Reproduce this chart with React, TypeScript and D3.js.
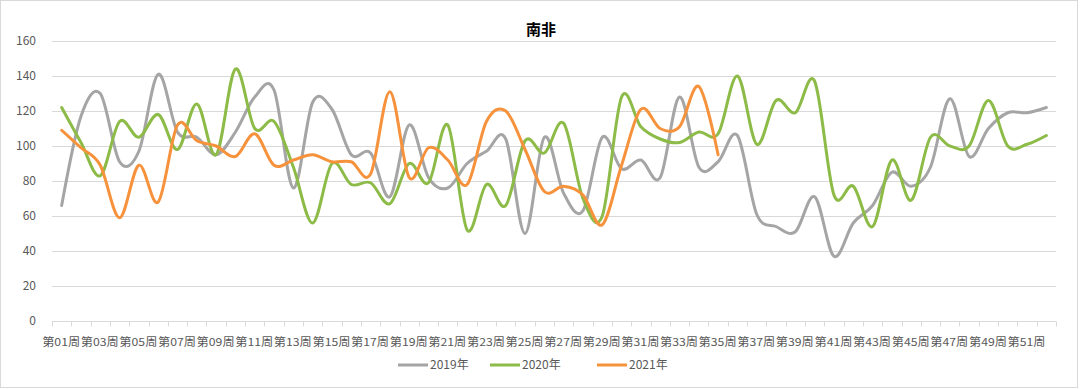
import React, { useRef, useEffect } from "react";
import * as d3 from "d3";

const weeks = d3.range(1, 53).map((w) => `第${String(w).padStart(2, "0")}周`);

const values2019 = [
  66, 117, 130, 91, 97, 141, 108, 105, 95, 108, 128, 132, 76, 125, 121, 95,
  96, 71, 112, 82, 76, 90, 97, 104, 50, 105, 73, 63, 105, 87, 92, 82, 128, 88,
  91, 106, 61, 54, 51, 71, 37, 56, 66, 85, 77, 88, 127, 94, 110, 119, 119, 122,
];

const values2020 = [
  122, 102, 83, 114, 105, 118, 98, 124, 95, 144, 110, 114, 88, 56, 90, 78, 79,
  67, 90, 79, 112, 52, 78, 66, 103, 96, 113, 70, 60, 128, 111, 104, 102, 108,
  107, 140, 101, 126, 119, 137, 72, 77, 54, 92, 69, 105, 100, 100, 126, 100,
  101, 106,
];

const values2021 = [
  109, 99, 89, 59, 89, 68, 112, 103, 100, 94, 107, 89, 92, 95, 91, 91, 84, 131,
  82, 99, 92, 78, 114, 120, 98, 74, 77, 72, 55, 89, 121, 110, 111, 134, 95,
];

const yTicks = [0, 20, 40, 60, 80, 100, 120, 140, 160];

const seriesList = [
  { name: "2019年", values: values2019, color: "#A5A5A5" },
  { name: "2020年", values: values2020, color: "#8DBB47" },
  { name: "2021年", values: values2021, color: "#F7923C" },
];

const W = 1080;
const H = 389;
const margin = { top: 41, right: 24, bottom: 68, left: 52 };

const App: React.FC = () => {
  const svgRef = useRef<SVGSVGElement | null>(null);

  useEffect(() => {
    const root = d3.select(svgRef.current);
    root.selectAll("*").remove();

    const font = "'Noto Sans CJK SC', 'Noto Sans', sans-serif";
    const innerW = W - margin.left - margin.right;
    const innerH = H - margin.top - margin.bottom;

    // chart frame
    root
      .append("rect")
      .attr("x", 0.5)
      .attr("y", 0.5)
      .attr("width", W - 3)
      .attr("height", H - 2)
      .attr("fill", "#fff")
      .attr("stroke", "#D9D9D9");

    root
      .append("text")
      .attr("x", 541)
      .attr("y", 35)
      .attr("text-anchor", "middle")
      .style("font-family", font)
      .style("font-size", "15px")
      .style("font-weight", "bold")
      .style("fill", "#000")
      .text("南非");

    const g = root
      .append("g")
      .attr("transform", `translate(${margin.left},${margin.top})`);

    const x = d3.scaleBand<string>().domain(weeks).range([0, innerW]);
    const y = d3.scaleLinear().domain([0, 160]).range([innerH, 0]);

    // gridlines
    g.append("g")
      .selectAll("line")
      .data(yTicks.filter((t) => t > 0))
      .join("line")
      .attr("x1", 0)
      .attr("x2", innerW)
      .attr("y1", (d) => Math.round(y(d)) + 0.5)
      .attr("y2", (d) => Math.round(y(d)) + 0.5)
      .attr("stroke", "#D9D9D9")
      .attr("stroke-width", 1);

    // y labels
    g.append("g")
      .selectAll("text")
      .data(yTicks)
      .join("text")
      .attr("x", -16)
      .attr("y", (d) => y(d))
      .attr("dy", "0.35em")
      .attr("text-anchor", "end")
      .style("font-family", font)
      .style("font-size", "12px")
      .style("fill", "#595959")
      .text((d) => d);

    // x axis line and category ticks
    const axisY = Math.round(innerH) + 0.5;
    g.append("line")
      .attr("x1", 0)
      .attr("x2", innerW)
      .attr("y1", axisY)
      .attr("y2", axisY)
      .attr("stroke", "#D9D9D9");

    g.append("g")
      .selectAll("line")
      .data(d3.range(weeks.length + 1))
      .join("line")
      .attr("x1", (i) => Math.round(i * x.step()) + 0.5)
      .attr("x2", (i) => Math.round(i * x.step()) + 0.5)
      .attr("y1", axisY)
      .attr("y2", axisY + 5)
      .attr("stroke", "#D9D9D9");

    g.append("g")
      .selectAll("text")
      .data(weeks.filter((_, i) => i % 2 === 0))
      .join("text")
      .attr("x", (d) => (x(d) as number) + x.bandwidth() / 2 - 0.5)
      .attr("y", innerH + 21)
      .attr("dy", "0.35em")
      .attr("text-anchor", "middle")
      .attr("textLength", 38)
      .attr("lengthAdjust", "spacingAndGlyphs")
      .style("font-family", font)
      .style("font-size", "11px")
      .style("fill", "#595959")
      .text((d) => d);

    // series lines
    const line = d3
      .line<number>()
      .x((_, i) => (x(weeks[i]) as number) + x.bandwidth() / 2)
      .y((d) => y(d))
      .curve(d3.curveCardinal);

    seriesList.forEach((s) => {
      g.append("path")
        .datum(s.values)
        .attr("fill", "none")
        .attr("stroke", s.color)
        .attr("stroke-width", 3)
        .attr("stroke-linejoin", "round")
        .attr("stroke-linecap", "round")
        .attr("d", line);
    });

    // legend
    const legendX = [398, 490, 597];
    const legend = root
      .append("g")
      .selectAll("g")
      .data(seriesList)
      .join("g")
      .attr("transform", (_, i) => `translate(${legendX[i]},365)`);

    legend
      .append("line")
      .attr("x1", 0)
      .attr("x2", 30)
      .attr("stroke", (d) => d.color)
      .attr("stroke-width", 3);

    legend
      .append("text")
      .attr("x", 32)
      .attr("dy", "0.35em")
      .style("font-family", font)
      .style("font-size", "12px")
      .style("fill", "#595959")
      .text((d) => d.name);
  }, []);

  return (
    <svg
      ref={svgRef}
      width={W}
      height={H}
      style={{ position: "absolute", left: 0, top: 0, display: "block" }}
    ></svg>
  );
};

export default App;
